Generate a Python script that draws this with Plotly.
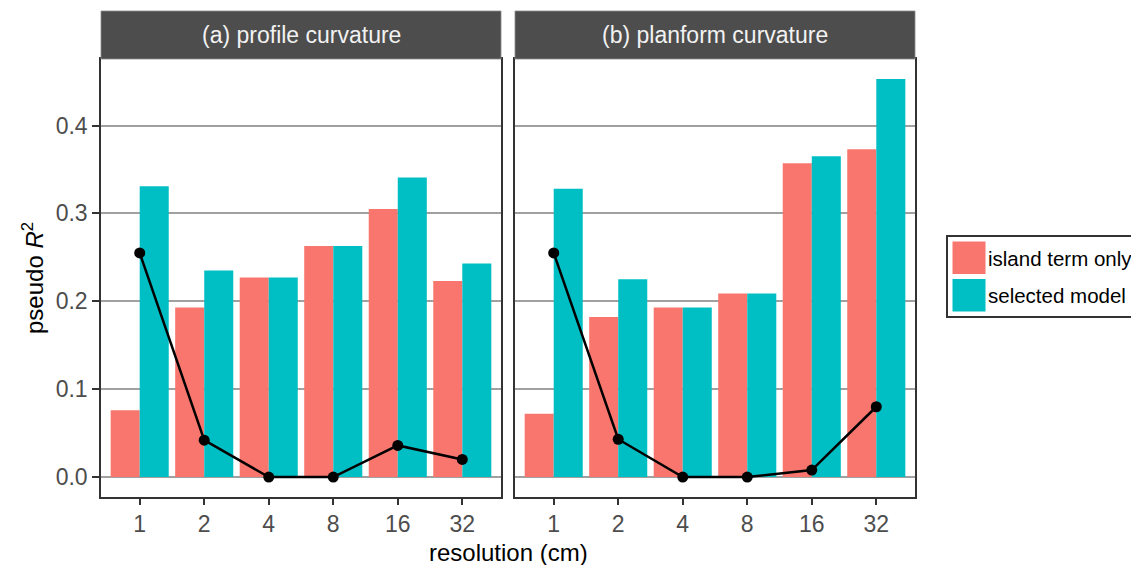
import plotly.graph_objects as go

# ---- data -------------------------------------------------------------
resolution = ["1", "2", "4", "8", "16", "32"]          # grid resolution (cm)
series_names = ["island term only", "selected model"]
panel_titles = ["(a) profile curvature", "(b) planform curvature"]

profile_island = [0.076, 0.193, 0.227, 0.263, 0.305, 0.223]
profile_selected = [0.331, 0.235, 0.227, 0.263, 0.341, 0.243]
profile_gain = [0.255, 0.042, 0.0, 0.0, 0.036, 0.020]

planform_island = [0.072, 0.182, 0.193, 0.209, 0.357, 0.373]
planform_selected = [0.328, 0.225, 0.193, 0.209, 0.365, 0.453]
planform_gain = [0.255, 0.043, 0.0, 0.0, 0.008, 0.080]

y_ticks = [0.0, 0.1, 0.2, 0.3, 0.4]

# ---- styling ----------------------------------------------------------
W, H = 1131, 565
FONT = "Liberation Sans, Arial, sans-serif"
C_ISLAND = "#F8766D"
C_SELECTED = "#00BFC4"
STRIP = "#4D4D4D"
BORDER = "#333333"
GRID = "#A0A0A0"
TICK_TXT = "#4D4D4D"
TICK_SIZE = 23
STRIP_SIZE = 23
LEGEND_SIZE = 20.5
TITLE_SIZE = 24


def fx(px):
    return px / W


def fy(py):
    return 1 - py / H


panels = [
    dict(x0=101, x1=501, island=profile_island, selected=profile_selected,
         gain=profile_gain, title=panel_titles[0]),
    dict(x0=515, x1=915, island=planform_island, selected=planform_selected,
         gain=planform_gain, title=panel_titles[1]),
]
PANEL_TOP, PANEL_BOTTOM = 59, 497
STRIP_TOP = 11

fig = go.Figure()
layout_axes = {}
shapes = []
annotations = []

for i, p in enumerate(panels):
    n = "" if i == 0 else str(i + 1)
    xa, ya = "x" + n, "y" + n
    fig.add_trace(go.Bar(x=resolution, y=p["island"], name=series_names[0],
                         marker=dict(color=C_ISLAND, line=dict(width=0)),
                         offsetgroup="a", xaxis=xa, yaxis=ya, showlegend=False))
    fig.add_trace(go.Bar(x=resolution, y=p["selected"], name=series_names[1],
                         marker=dict(color=C_SELECTED, line=dict(width=0)),
                         offsetgroup="b", xaxis=xa, yaxis=ya, showlegend=False))
    fig.add_trace(go.Scatter(x=resolution, y=p["gain"], mode="lines+markers",
                             line=dict(color="black", width=2.5),
                             marker=dict(color="black", size=11),
                             xaxis=xa, yaxis=ya, showlegend=False))

    layout_axes["xaxis" + n] = dict(
        domain=[fx(p["x0"]), fx(p["x1"])], anchor=ya, type="category",
        categoryorder="array", categoryarray=resolution,
        range=[-0.6, len(resolution) - 0.4],
        showgrid=False, zeroline=False,
        showline=True, mirror=True, linecolor=BORDER, linewidth=1.5,
        ticks="outside", ticklen=6, tickwidth=1.5, tickcolor=BORDER,
        tickfont=dict(family=FONT, size=TICK_SIZE, color=TICK_TXT),
    )
    layout_axes["yaxis" + n] = dict(
        domain=[fy(PANEL_BOTTOM), fy(PANEL_TOP)], anchor=xa,
        range=[-0.0227, 0.4757], tickvals=y_ticks,
        ticktext=[f"{v:.1f}" for v in y_ticks],
        showgrid=True, gridcolor=GRID, gridwidth=2, zeroline=False,
        showline=True, mirror=True, linecolor=BORDER, linewidth=1.5,
        ticks="outside" if i == 0 else "", ticklen=7, tickwidth=1.5,
        tickcolor=BORDER, showticklabels=(i == 0),
        tickfont=dict(family=FONT, size=TICK_SIZE, color=TICK_TXT),
    )

    # facet strip
    shapes.append(dict(type="rect", xref="paper", yref="paper",
                       x0=fx(p["x0"]), x1=fx(p["x1"]),
                       y0=fy(PANEL_TOP), y1=fy(STRIP_TOP),
                       fillcolor=STRIP, line=dict(color="#8A8A8A", width=0.8),
                       layer="above"))
    annotations.append(dict(text=p["title"], xref="paper", yref="paper",
                            x=fx((p["x0"] + p["x1"]) / 2),
                            y=fy((STRIP_TOP + PANEL_TOP) / 2),
                            xanchor="center", yanchor="middle", showarrow=False,
                            font=dict(family=FONT, size=STRIP_SIZE, color="#F2F2F2")))

# axis titles
annotations.append(dict(text="pseudo <i>R</i><sup>2</sup>", xref="paper", yref="paper",
                        x=fx(33), y=fy((PANEL_TOP + PANEL_BOTTOM) / 2),
                        xanchor="center", yanchor="middle", textangle=-90,
                        showarrow=False, font=dict(family=FONT, size=TITLE_SIZE, color="black")))
annotations.append(dict(text="resolution (cm)", xref="paper", yref="paper",
                        x=fx(508), y=fy(552), xanchor="center", yanchor="middle",
                        showarrow=False, font=dict(family=FONT, size=TITLE_SIZE, color="black")))

# legend box with square keys
shapes.append(dict(type="rect", xref="paper", yref="paper",
                   x0=fx(947), x1=fx(1145), y0=fy(317), y1=fy(236),
                   fillcolor="white", line=dict(color=BORDER, width=2)))
for k, (name, col) in enumerate(zip(series_names, [C_ISLAND, C_SELECTED])):
    top = 241 + k * 37.5
    shapes.append(dict(type="rect", xref="paper", yref="paper",
                       x0=fx(952), x1=fx(986), y0=fy(top + 33.5), y1=fy(top),
                       fillcolor=col, line=dict(color="white", width=1)))
    annotations.append(dict(text=name, xref="paper", yref="paper",
                            x=fx(986), y=fy(top + 17), xanchor="left",
                            yanchor="middle", showarrow=False,
                            font=dict(family=FONT, size=LEGEND_SIZE, color="black")))

fig.update_layout(
    width=W, height=H, margin=dict(l=0, r=0, t=0, b=0),
    paper_bgcolor="white", plot_bgcolor="white",
    barmode="group", bargap=0.1, bargroupgap=0,
    shapes=shapes, annotations=annotations, showlegend=False,
    **layout_axes,
)

fig.write_html("out.html")
